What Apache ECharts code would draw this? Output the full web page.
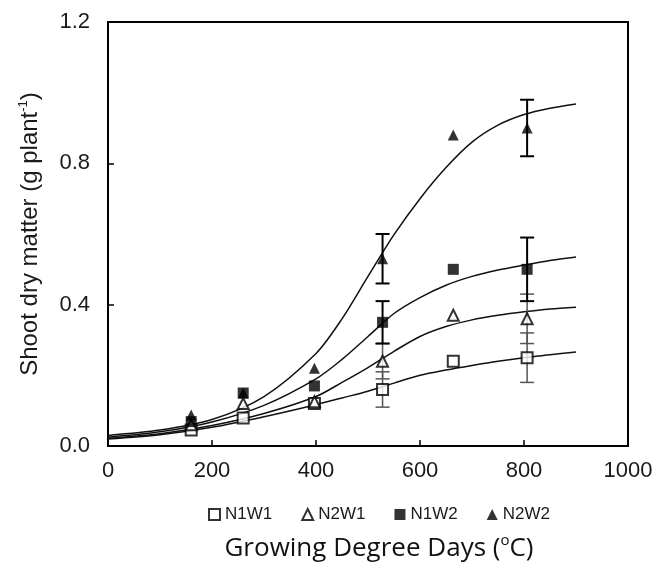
<!DOCTYPE html>
<html>
<head>
<meta charset="utf-8">
<title>Shoot dry matter</title>
<script src="https://cdn.jsdelivr.net/npm/echarts@6/dist/echarts.min.js"></script>
<style>
    html, body { margin: 0; padding: 0; background: #fff; }
    #chart { width: 657px; height: 570px; }
</style>
</head>
<body>
<div id="chart"></div>
<script>
    // treatments
    var names = ['N1W1', 'N2W1', 'N1W2', 'N2W2'];

    // measured points (growing degree days, g/plant)
    var gdd = [160, 260, 397, 528, 664, 806];
    var n1w1 = [0.045, 0.079, 0.12, 0.16, 0.24, 0.25];
    var n2w1 = [0.06, 0.12, 0.125, 0.24, 0.37, 0.36];
    var n1w2 = [0.069, 0.15, 0.17, 0.35, 0.50, 0.50];
    var n2w2 = [0.088, 0.15, 0.22, 0.53, 0.88, 0.90];

    // error bars: low / high at the two later dates
    var errGdd = [528, 806];
    var n1w1Low = [0.11, 0.18], n1w1High = [0.21, 0.32];
    var n2w1Low = [0.19, 0.29], n2w1High = [0.29, 0.43];
    var n1w2Low = [0.29, 0.41], n1w2High = [0.41, 0.59];
    var n2w2Low = [0.46, 0.82], n2w2High = [0.60, 0.98];

    // fitted curves
    var fitGdd = [0, 100, 200, 300, 400, 450, 500, 550, 600, 650, 700, 750, 800, 850, 900];
    var fitN1W1 = [0.020, 0.032, 0.053, 0.083, 0.117, 0.136, 0.155, 0.178, 0.200, 0.215, 0.228, 0.240, 0.250, 0.258, 0.266];
    var fitN2W1 = [0.022, 0.035, 0.058, 0.092, 0.140, 0.180, 0.222, 0.268, 0.310, 0.338, 0.357, 0.370, 0.380, 0.388, 0.393];
    var fitN1W2 = [0.025, 0.040, 0.068, 0.115, 0.190, 0.245, 0.310, 0.375, 0.420, 0.455, 0.480, 0.498, 0.512, 0.525, 0.535];
    var fitN2W2 = [0.030, 0.045, 0.075, 0.140, 0.262, 0.360, 0.480, 0.598, 0.700, 0.788, 0.860, 0.908, 0.938, 0.956, 0.968];

    var xTicks = [0, 200, 400, 600, 800, 1000];

    function pairs(xs, ys) {
        var out = [];
        for (var i = 0; i < xs.length; i++) out.push([xs[i], ys[i]]);
        return out;
    }

    function triples(xs, lo, hi) {
        var out = [];
        for (var i = 0; i < xs.length; i++) out.push([xs[i], lo[i], hi[i]]);
        return out;
    }

    function fitLine(name, ys) {
        return {
            type: 'line',
            name: name,
            data: pairs(fitGdd, ys),
            smooth: 0.3,
            showSymbol: false,
            silent: true,
            lineStyle: { color: '#111', width: 1.5 },
            z: 2
        };
    }

    function errBars(name, lo, hi, color, width) {
        return {
            type: 'custom',
            name: name,
            data: triples(errGdd, lo, hi),
            encode: { x: 0, y: [1, 2] },
            silent: true,
            z: 3,
            renderItem: function(params, api) {
                var a = api.coord([api.value(0), api.value(1)]);
                var b = api.coord([api.value(0), api.value(2)]);
                var hw = 7;
                var st = { stroke: color, lineWidth: width };
                return {
                    type: 'group',
                    children: [
                        { type: 'line', shape: { x1: a[0], y1: a[1], x2: b[0], y2: b[1] }, style: st },
                        { type: 'line', shape: { x1: a[0] - hw, y1: a[1], x2: a[0] + hw, y2: a[1] }, style: st },
                        { type: 'line', shape: { x1: b[0] - hw, y1: b[1], x2: b[0] + hw, y2: b[1] }, style: st }
                    ]
                };
            }
        };
    }

    function points(name, ys, symbol, filled) {
        return {
            type: 'scatter',
            name: name,
            data: pairs(gdd, ys),
            symbol: symbol,
            symbolSize: 11,
            itemStyle: {
                color: filled ? '#000' : '#fff',
                borderColor: '#000',
                borderWidth: filled ? 0 : 2
            },
            z: 5
        };
    }

    var myChart = echarts.init(document.getElementById('chart'));

    myChart.setOption({
        animation: false,
        backgroundColor: '#fff',
        grid: {
            left: 108,
            right: 29,
            top: 22,
            bottom: 124,
            outerBoundsMode: 'none',
            show: true,
            borderColor: '#000',
            borderWidth: 2
        },
        legend: {
            data: names,
            left: 203,
            top: 501,
            itemWidth: 11,
            itemHeight: 11,
            itemGap: 29,
            textStyle: { fontSize: 17, fontFamily: 'Liberation Sans', color: '#1a1a1a' }
        },
        xAxis: {
            type: 'value',
            min: 0,
            max: 1000,
            interval: 200,
            axisLine: { lineStyle: { color: '#000', width: 2 } },
            axisTick: { inside: true, length: 6, lineStyle: { color: '#000', width: 1.5 } },
            splitLine: { show: false },
            axisLabel: {
                margin: 14,
                fontSize: 22,
                fontFamily: 'Liberation Sans',
                color: '#1a1a1a',
                formatter: function(v) { return xTicks.indexOf(v) >= 0 ? String(v) : ''; }
            }
        },
        yAxis: {
            type: 'value',
            min: 0,
            max: 1.2,
            interval: 0.4,
            axisLine: { lineStyle: { color: '#000', width: 2 } },
            axisTick: { inside: true, length: 6, lineStyle: { color: '#000', width: 1.5 } },
            splitLine: { show: false },
            axisLabel: {
                margin: 18,
                fontSize: 22,
                fontFamily: 'Liberation Sans',
                color: '#1a1a1a',
                formatter: function(v) { return v.toFixed(1); }
            },
            name: '{a|Shoot dry matter (g plant}{s|-1}{a|)}',
            nameLocation: 'middle',
            nameRotate: 90,
            nameGap: 64,
            nameTextStyle: {
                rich: {
                    a: { fontSize: 24, fontFamily: 'Liberation Sans', color: '#1a1a1a' },
                    s: { fontSize: 13, fontFamily: 'Liberation Sans', color: '#1a1a1a', padding: [0, 0, 14, 0] }
                }
            }
        },
        graphic: [{
            type: 'text',
            x: 379,
            y: 549,
            style: {
                text: '{a|Growing Degree Days (}{s|o}{a|C)}',
                align: 'center',
                verticalAlign: 'middle',
                rich: {
                    a: { fontSize: 26, fontFamily: 'Open Sans', fill: '#111' },
                    s: { fontSize: 15, fontFamily: 'Open Sans', fill: '#111', padding: [0, 0, 16, 0] }
                }
            }
        }],
        series: [
            fitLine('fit N1W1', fitN1W1),
            fitLine('fit N2W1', fitN2W1),
            fitLine('fit N1W2', fitN1W2),
            fitLine('fit N2W2', fitN2W2),
            errBars('err N1W1', n1w1Low, n1w1High, '#555', 1.5),
            errBars('err N2W1', n2w1Low, n2w1High, '#555', 1.5),
            errBars('err N1W2', n1w2Low, n1w2High, '#000', 2),
            errBars('err N2W2', n2w2Low, n2w2High, '#000', 2),
            points('N1W1', n1w1, 'rect', false),
            points('N2W1', n2w1, 'triangle', false),
            points('N1W2', n1w2, 'rect', true),
            points('N2W2', n2w2, 'triangle', true)
        ]
    });
</script>
</body>
</html>
